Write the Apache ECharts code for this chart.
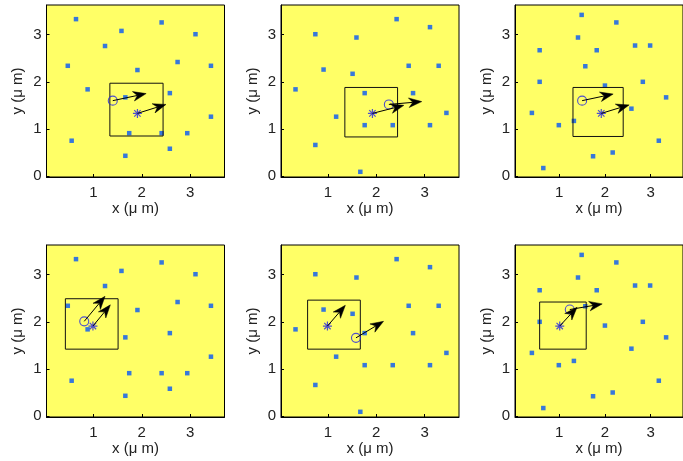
<!DOCTYPE html>
<html><head><meta charset="utf-8">
<script src="https://cdn.jsdelivr.net/npm/echarts@6/dist/echarts.min.js"></script>
<style>html,body{margin:0;padding:0;background:#fff}#c{width:683px;height:461px}</style>
</head><body><div id="c"></div>
<script>
// ---- data ----
const xTicks = [1, 2, 3];
const yTicks = [0, 1, 2, 3];
const xName = 'x (μ m)';
const yName = 'y (μ m)';

// blue lattice dots (panels 1&4, 2&5, 3&6 share them)
const dotsA = [[0.64,3.33],[2.41,3.26],[1.58,3.08],[3.11,3.01],[1.24,2.76],[2.74,2.42],[0.47,2.34],[3.43,2.34],[1.91,2.25],[0.88,1.84],[2.58,1.76],[1.66,1.67],[3.43,1.26],[1.74,0.91],[2.41,0.91],[2.94,0.91],[0.55,0.75],[2.58,0.58],[1.66,0.43]];
const dotsB = [[2.42,3.33],[3.11,3.16],[0.74,3.01],[1.59,2.94],[2.67,2.34],[3.29,2.34],[0.91,2.26],[1.51,2.17],[0.33,1.84],[1.76,1.76],[2.76,1.76],[3.45,1.34],[1.17,1.26],[1.76,1.08],[2.34,1.08],[3.11,1.08],[0.74,0.66],[1.67,0.09]];
const dotsC = [[1.49,3.42],[2.25,3.26],[1.41,2.94],[2.66,2.77],[2.99,2.77],[0.57,2.67],[1.82,2.67],[1.57,2.33],[0.57,2.00],[2.83,2.00],[2.00,1.92],[3.34,1.67],[2.58,1.43],[0.40,1.34],[1.32,1.17],[0.99,1.08],[3.18,0.75],[1.74,0.42],[2.17,0.50],[0.65,0.17]];

// boxes: [xmin, ymin, xmax, ymax]
const boxes = [[1.34,0.85,2.44,1.97],[1.35,0.83,2.44,1.88],[1.30,0.84,2.40,1.88],[0.42,1.42,1.51,2.49],[0.58,1.42,1.67,2.46],[0.57,1.42,1.59,2.42]];
// circle markers
const circles = [[1.40,1.60],[2.26,1.52],[1.50,1.60],[0.81,2.01],[1.58,1.66],[1.23,2.26]];
// asterisk markers
const stars = [[1.91,1.33],[1.92,1.33],[1.92,1.33],[0.99,1.91],[0.99,1.91],[1.01,1.91]];
// arrow tips: from circle, from asterisk
const circleTips = [[2.09,1.75],[2.94,1.58],[2.18,1.74],[1.24,2.54],[2.15,2.01],[1.94,2.38]];
const starTips = [[2.50,1.52],[2.57,1.50],[2.53,1.51],[1.35,2.36],[1.36,2.35],[1.39,2.31]];

const panelDots = [dotsA, dotsB, dotsC, dotsA, dotsB, dotsC];

// ---- layout ----
const colLeft = [46.5, 281, 515];
const rowTop = [5, 245];
const W = 178, H = 172;
const X_MIN = 0.03, X_MAX = 3.71, Y_MIN = -0.02, Y_MAX = 3.63;
const YELLOW = '#ffff66';
const DOT = '#0556f8';
const MARK = '#2323e6';
const FONT = 'Liberation Sans, Arial, sans-serif';

const grids = [], xAxes = [], yAxes = [], series = [];
for (let i = 0; i < 6; i++) {
  const r = Math.floor(i / 3), c = i % 3;
  grids.push({left: colLeft[c], top: rowTop[r], width: W, height: H, show: true,
    backgroundColor: YELLOW, borderColor: '#000', borderWidth: 1, containLabel: false});
  xAxes.push({type: 'value', gridIndex: i, min: X_MIN, max: X_MAX,
    name: xName, nameLocation: 'middle', nameGap: 22,
    nameTextStyle: {fontSize: 15, fontFamily: FONT, color: '#222'},
    axisLine: {show: true, onZero: false, lineStyle: {color: '#000', width: 1}},
    axisTick: {show: true, inside: true, length: 3, customValues: xTicks, lineStyle: {color: '#000'}},
    axisLabel: {customValues: xTicks, fontSize: 15, fontFamily: FONT, color: '#222', margin: 8},
    splitLine: {show: false}});
  yAxes.push({type: 'value', gridIndex: i, min: Y_MIN, max: Y_MAX,
    name: yName, nameLocation: 'middle', nameGap: 21, nameRotate: 90,
    nameTextStyle: {fontSize: 15, fontFamily: FONT, color: '#222'},
    axisLine: {show: true, onZero: false, lineStyle: {color: '#000', width: 1}},
    axisTick: {show: true, inside: true, length: 3, customValues: yTicks, lineStyle: {color: '#000'}},
    axisLabel: {customValues: yTicks, fontSize: 15, fontFamily: FONT, color: '#222', margin: 5},
    splitLine: {show: false}});

  series.push({type: 'scatter', xAxisIndex: i, yAxisIndex: i, symbol: 'rect', symbolSize: 4.5,
    itemStyle: {color: DOT}, data: panelDots[i], silent: true, z: 2});

  const b = boxes[i];
  series.push({type: 'line', xAxisIndex: i, yAxisIndex: i, symbol: 'none', silent: true,
    lineStyle: {color: '#111', width: 1}, z: 3,
    data: [[b[0],b[1]],[b[2],b[1]],[b[2],b[3]],[b[0],b[3]],[b[0],b[1]]]});

  series.push({type: 'scatter', xAxisIndex: i, yAxisIndex: i, symbol: 'circle', symbolSize: 9,
    itemStyle: {color: 'rgba(0,0,0,0)', borderColor: MARK, borderWidth: 1.1}, data: [circles[i]], silent: true, z: 4});
  series.push({type: 'scatter', xAxisIndex: i, yAxisIndex: i,
    symbol: 'path://M0,-10L0,10M-10,0L10,0M-7.1,-7.1L7.1,7.1M-7.1,7.1L7.1,-7.1', symbolSize: 9,
    itemStyle: {color: 'rgba(0,0,0,0)', borderColor: MARK, borderWidth: 1.2}, data: [stars[i]], silent: true, z: 4});

  const arrows = [
    [circles[i][0], circles[i][1], circleTips[i][0], circleTips[i][1]],
    [stars[i][0], stars[i][1], starTips[i][0], starTips[i][1]]
  ];
  series.push({type: 'custom', xAxisIndex: i, yAxisIndex: i, silent: true, z: 5,
    encode: {x: [0, 2], y: [1, 3]},
    data: arrows,
    renderItem: function (params, api) {
      const p0 = api.coord([api.value(0), api.value(1)]);
      const p1 = api.coord([api.value(2), api.value(3)]);
      const dx = p1[0] - p0[0], dy = p1[1] - p0[1];
      const L = Math.sqrt(dx*dx + dy*dy) || 1;
      const ux = dx / L, uy = dy / L, nx = -uy, ny = ux;
      const hl = 13, hw = 4.8, notch = 9;
      const base = [p1[0] - ux*hl, p1[1] - uy*hl];
      const nb = [p1[0] - ux*notch, p1[1] - uy*notch];
      return {type: 'group', children: [
        {type: 'line', shape: {x1: p0[0], y1: p0[1], x2: nb[0], y2: nb[1]},
          style: {stroke: '#000', lineWidth: 1}},
        {type: 'polygon', shape: {points: [p1, [base[0]+nx*hw, base[1]+ny*hw], nb, [base[0]-nx*hw, base[1]-ny*hw]]},
          style: {fill: '#000', stroke: '#000', lineWidth: 0.5}}
      ]};
    }
  });
}

const chart = echarts.init(document.getElementById('c'), null, {renderer: 'canvas'});
chart.setOption({animation: false, backgroundColor: '#fff', grid: grids, xAxis: xAxes, yAxis: yAxes, series: series});
</script></body></html>
